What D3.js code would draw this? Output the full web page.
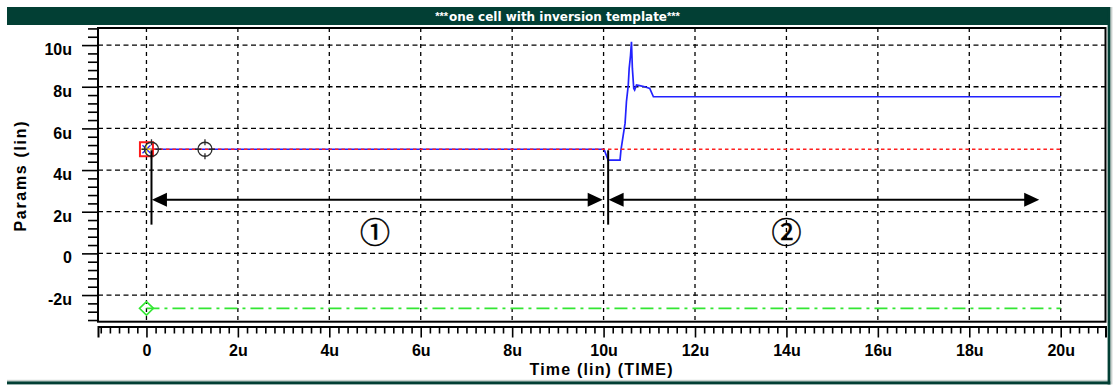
<!DOCTYPE html>
<html>
<head>
<meta charset="utf-8">
<script src="https://cdn.jsdelivr.net/npm/d3@7"></script>
<style>
  html, body { margin: 0; padding: 0; background: #ffffff; }
  svg { display: block; }
</style>
</head>
<body>
<svg id="chart" width="1116" height="387"></svg>
<script>
// ---- data (values in micro-units) ----
const titleText = "one cell with inversion template";
const xTickValues = [0, 2, 4, 6, 8, 10, 12, 14, 16, 18, 20];
const xTickLabels = ["0", "2u", "4u", "6u", "8u", "10u", "12u", "14u", "16u", "18u", "20u"];
const yTickValues = [-2, 0, 2, 4, 6, 8, 10];
const yTickLabels = ["-2u", "0", "2u", "4u", "6u", "8u", "10u"];

// blue trace: time (u) and value (u)
const blueTime  = [0, 10.01, 10.10, 10.36, 10.38, 10.43, 10.47, 10.50, 10.54, 10.56, 10.59, 10.61, 10.63, 10.66, 10.68, 10.72, 10.79, 10.90, 11.01, 11.09, 20];
const blueValue = [5, 5,     4.48,  4.48,  4.96,  5.68,  6.24,  7.28,  8.08,  8.88,  9.52,  10.16, 8.88,  7.92,  7.84,  8.08,  8.05,  8.00,  7.92,  7.52,  7.52];
// red dashed trace
const redTime  = [0, 20];
const redValue = [5, 5];
// green dash-dot trace
const greenTime  = [0, 20];
const greenValue = [-2.64, -2.64];

// phase spans with circled labels
const spanFrom   = [0.12, 10.11];
const spanTo     = [9.98, 19.53];
const spanLabels = ["①", "②"];
const spanLabelAt = [5, 14];
const cursorTimes = [0.11, 10.10];   // vertical cursor lines
const probeTimes  = [0.11, 1.28];    // crosshair probes on the 5u trace

// ---- layout ----
const svg = d3.select("#chart");
const plot = { left: 98, top: 28, right: 1105.5, bottom: 321.7 };
const x = d3.scaleLinear().domain([-1.06, 20.98]).range([plot.left, plot.right]);
const y = d3.scaleLinear().domain([-3.28, 10.82]).range([plot.bottom, plot.top]);
const fontMain = "'Liberation Sans', Arial, sans-serif";
const frameGreen = "#023f34";

// window frame
svg.append("rect").attr("x", 7).attr("y", 7).attr("width", 1103).attr("height", 18).attr("fill", frameGreen);
svg.append("rect").attr("x", 7).attr("y", 379.8).attr("width", 1103).attr("height", 1.6).attr("fill", "#c9d0cd");
svg.append("rect").attr("x", 7).attr("y", 381.4).attr("width", 1103.5).attr("height", 3).attr("fill", frameGreen);
svg.append("rect").attr("x", 1107.6).attr("y", 7).attr("width", 3).attr("height", 377.4).attr("fill", frameGreen);
svg.append("rect").attr("x", 1110.6).attr("y", 7).attr("width", 1.8).attr("height", 377.4).attr("fill", "#c9d0cd");

// title
const titleFont = "'DejaVu Sans', 'Liberation Sans', sans-serif";
svg.append("text").attr("x", 558).attr("y", 20.6).attr("text-anchor", "middle")
  .attr("font-family", titleFont).attr("font-weight", "bold").attr("font-size", 12)
  .attr("fill", "#ffffff").attr("textLength", 218).attr("lengthAdjust", "spacingAndGlyphs")
  .text(titleText);
svg.append("text").attr("x", 448).attr("y", 20).attr("text-anchor", "end")
  .attr("font-family", fontMain).attr("font-weight", "bold").attr("font-size", 11)
  .attr("fill", "#ffffff").text("***");
svg.append("text").attr("x", 667).attr("y", 20).attr("text-anchor", "start")
  .attr("font-family", fontMain).attr("font-weight", "bold").attr("font-size", 11)
  .attr("fill", "#ffffff").text("***");

// plot area
svg.append("rect").attr("x", plot.left).attr("y", plot.top)
  .attr("width", plot.right - plot.left).attr("height", plot.bottom - plot.top)
  .attr("fill", "#ffffff");

// grid
const grid = svg.append("g").attr("stroke", "#000").attr("stroke-width", 1.3);
grid.selectAll("line.v").data(xTickValues).join("line").attr("class", "v")
  .attr("x1", d => x(d)).attr("x2", d => x(d))
  .attr("y1", plot.top).attr("y2", plot.bottom)
  .attr("stroke-dasharray", "4,4");
grid.selectAll("line.h").data(yTickValues).join("line").attr("class", "h")
  .attr("y1", d => y(d)).attr("y2", d => y(d))
  .attr("x1", plot.left).attr("x2", plot.right)
  .attr("stroke-dasharray", "5,3.5");

// plot border
svg.append("rect").attr("x", plot.left).attr("y", plot.top)
  .attr("width", plot.right - plot.left).attr("height", plot.bottom - plot.top)
  .attr("fill", "none").attr("stroke", "#000").attr("stroke-width", 2);

// axes
const near = (a, list) => list.some(b => Math.abs(a - b) < 1e-6);
const xMinor = d3.range(-5, 105).map(i => +(i * 0.2).toFixed(2)).filter(v => !near(v, xTickValues));
const yMinor = d3.range(-8, 28).map(i => +(i * 0.4).toFixed(2)).filter(v => !near(v, yTickValues));
const xAxisY = 326.5;

function styleAxis(g) {
  g.selectAll("line, path").attr("stroke", "#000").attr("stroke-width", 1.6);
  g.selectAll("text").attr("fill", "#000")
    .attr("font-family", fontMain).attr("font-weight", "bold").attr("font-size", 16);
}

svg.append("g").attr("transform", `translate(0,${xAxisY})`)
  .call(d3.axisBottom(x).tickValues(xMinor).tickSize(7).tickSizeOuter(0).tickFormat(""))
  .call(g => g.select(".domain").remove())
  .call(styleAxis);
svg.append("g").attr("transform", `translate(0,${xAxisY})`)
  .call(d3.axisBottom(x).tickValues(xTickValues).tickSize(11).tickSizeOuter(11).tickPadding(7)
    .tickFormat((d, i) => xTickLabels[i]))
  .call(styleAxis)
  .call(g => g.select(".domain").attr("stroke-width", 2));

svg.append("g").attr("transform", `translate(${plot.left},0)`)
  .call(d3.axisLeft(y).tickValues(yMinor).tickSize(10).tickSizeOuter(0).tickFormat(""))
  .call(g => g.select(".domain").remove())
  .call(styleAxis);
svg.append("g").attr("transform", `translate(${plot.left},0)`)
  .call(d3.axisLeft(y).tickValues(yTickValues).tickSize(16).tickSizeOuter(0).tickPadding(10)
    .tickFormat((d, i) => yTickLabels[i]))
  .call(g => g.select(".domain").remove())
  .call(styleAxis)
  .call(g => g.selectAll("text").attr("dy", "0.6em"));

// axis titles
svg.append("text").attr("x", 601).attr("y", 375).attr("text-anchor", "middle")
  .attr("font-family", fontMain).attr("font-weight", "bold").attr("font-size", 16)
  .attr("textLength", 143).attr("lengthAdjust", "spacing")
  .text("Time (lin) (TIME)");
svg.append("text").attr("transform", "translate(26,176.5) rotate(-90)").attr("text-anchor", "middle")
  .attr("font-family", fontMain).attr("font-weight", "bold").attr("font-size", 16)
  .attr("textLength", 110).attr("lengthAdjust", "spacing")
  .text("Params (lin)");

// traces
const line = d3.line().x(d => x(d[0])).y(d => y(d[1]));
const zip = (a, b) => a.map((v, i) => [v, b[i]]);

svg.append("path").datum(zip(greenTime, greenValue)).attr("d", line)
  .attr("fill", "none").attr("stroke", "#33e633").attr("stroke-width", 1.6)
  .attr("stroke-dasharray", "13,5,3,5");
svg.append("path").datum(zip(blueTime, blueValue)).attr("d", line)
  .attr("fill", "none").attr("stroke", "#2222ff").attr("stroke-width", 1.7)
  .attr("stroke-linejoin", "miter");
svg.append("path").datum(zip(redTime, redValue)).attr("d", line)
  .attr("fill", "none").attr("stroke", "#ff2020").attr("stroke-width", 1.7)
  .attr("stroke-dasharray", "3.5,3");

// start-point markers
const g0x = x(greenTime[0]), g0y = y(greenValue[0]);
svg.append("path").attr("d", `M${g0x - 7},${g0y}L${g0x},${g0y - 6.7}L${g0x + 7},${g0y}L${g0x},${g0y + 6.7}Z`)
  .attr("fill", "none").attr("stroke", "#33e633").attr("stroke-width", 1.6);

const r0x = x(redTime[0]), r0y = y(redValue[0]);
svg.append("rect").attr("x", r0x - 6.5).attr("y", r0y - 7).attr("width", 13).attr("height", 14)
  .attr("fill", "none").attr("stroke", "#ff1a1a").attr("stroke-width", 2);
svg.append("path").attr("d", `M${r0x - 4},${r0y - 4}L${r0x + 4},${r0y + 4}M${r0x - 4},${r0y + 4}L${r0x + 4},${r0y - 4}`)
  .attr("stroke", "#2222ff").attr("stroke-width", 1.2);
svg.append("path").attr("d", `M${r0x},${r0y - 5}V${r0y + 5}M${r0x - 5},${r0y}H${r0x + 5}`)
  .attr("stroke", "#f0e020").attr("stroke-width", 1.4);

// crosshair probes
probeTimes.forEach(t => {
  const cx = x(t), cy = y(5);
  const g = svg.append("g").attr("stroke", "#2a2a2a").attr("stroke-width", 1.3).attr("fill", "none");
  g.append("circle").attr("cx", cx).attr("cy", cy).attr("r", 7);
  g.append("path").attr("d",
    `M${cx},${cy - 10}V${cy - 4}M${cx},${cy + 4}V${cy + 10}M${cx - 10},${cy}H${cx - 4}M${cx + 4},${cy}H${cx + 10}`);
});

// cursor lines and phase spans
const ann = svg.append("g");
cursorTimes.forEach(t => {
  ann.append("line").attr("x1", x(t)).attr("x2", x(t))
    .attr("y1", y(4.95)).attr("y2", y(1.38))
    .attr("stroke", "#000").attr("stroke-width", 2);
});
const spanY = y(2.58);
const headLen = 15, headHalf = 7;
spanFrom.forEach((from, i) => {
  const x1 = x(from), x2 = x(spanTo[i]);
  ann.append("line").attr("x1", x1 + 4).attr("x2", x2 - 4).attr("y1", spanY).attr("y2", spanY)
    .attr("stroke", "#000").attr("stroke-width", 2);
  ann.append("path").attr("d", `M${x1},${spanY}L${x1 + headLen},${spanY - headHalf}L${x1 + headLen},${spanY + headHalf}Z`)
    .attr("fill", "#000");
  ann.append("path").attr("d", `M${x2},${spanY}L${x2 - headLen},${spanY - headHalf}L${x2 - headLen},${spanY + headHalf}Z`)
    .attr("fill", "#000");
  ann.append("text").attr("x", x(spanLabelAt[i])).attr("y", y(1.1))
    .attr("text-anchor", "middle").attr("dominant-baseline", "central")
    .attr("font-family", "'Noto Sans CJK JP', 'DejaVu Sans', sans-serif")
    .attr("font-size", 30).attr("fill", "#000")
    .attr("stroke", "#000").attr("stroke-width", 0.5)
    .text(spanLabels[i]);
});
</script>
</body>
</html>
